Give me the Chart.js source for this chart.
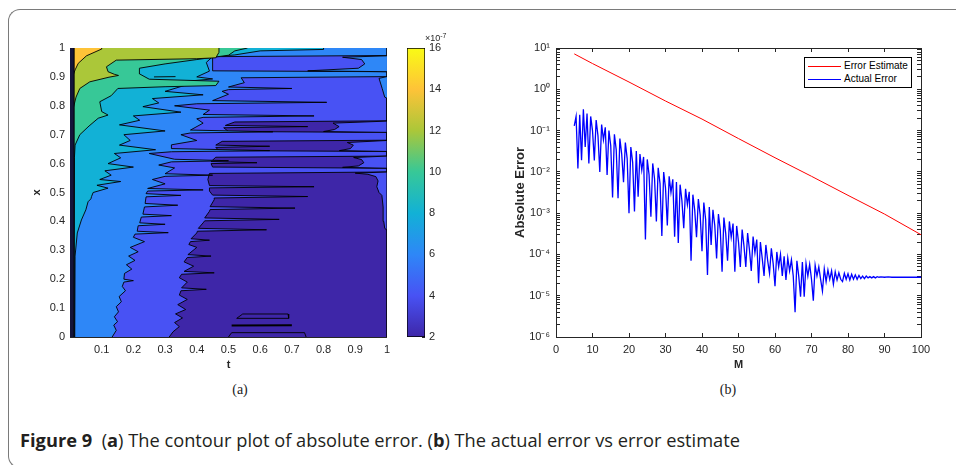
<!DOCTYPE html>
<html><head><meta charset="utf-8">
<script src="https://cdn.jsdelivr.net/npm/chart.js@4.4.1/dist/chart.umd.min.js"></script>
<style>
html,body{margin:0;padding:0;background:#fff;width:956px;height:465px;overflow:hidden;position:relative;font-family:'Liberation Sans',Arial,sans-serif;}
#frame{position:absolute;left:8px;top:9px;width:1000px;height:459px;border-left:1px solid #7a7a7a;border-top:1px solid #7a7a7a;border-bottom:1px solid #7a7a7a;border-radius:12px 0 0 12px;box-sizing:border-box;}
canvas{position:absolute;top:0;}
#cbExp{position:absolute;left:425px;top:32px;font-size:9px;color:#262626;white-space:nowrap;}
#cbExp sup{font-size:7px;vertical-align:3px;}
#legend{position:absolute;left:804px;top:57px;width:108px;height:31px;border:1px solid #000;background:#fff;box-sizing:border-box;font-size:10px;color:#000;}
#legend .sw{position:absolute;left:3px;width:33px;height:0;border-top:1px solid;}
#legend .tx{position:absolute;left:39px;white-space:nowrap;line-height:12px;}
.sub{position:absolute;top:382px;font-family:'Liberation Serif','DejaVu Serif',serif;font-size:14px;color:#222;transform:translateX(-50%);}
#caption{position:absolute;left:20px;top:428px;font-family:'Open Sans','Noto Sans',sans-serif;font-size:18px;color:#231f20;white-space:nowrap;transform-origin:0 50%;}
#caption b{font-weight:700;}
</style></head>
<body>
<div id="frame"></div>
<canvas id="cA" width="400" height="380" style="left:0px"></canvas>
<canvas id="cC" width="60" height="380" style="left:400px"></canvas>
<canvas id="cB" width="486" height="380" style="left:470px"></canvas>
<div id="cbExp">×10<sup>-7</sup></div>
<div id="legend">
  <div class="sw" style="top:8px;border-color:#ff0000"></div><div class="tx" style="top:2px">Error Estimate</div>
  <div class="sw" style="top:21px;border-color:#0000ff"></div><div class="tx" style="top:15px">Actual Error</div>
</div>
<div class="sub" style="left:240px">(a)</div>
<div class="sub" style="left:728px">(b)</div>
<div id="caption"><b>Figure 9</b>&nbsp; (<b>a</b>) The contour plot of absolute error. (<b>b</b>) The actual error vs error estimate</div>
<script>
// ---------------- Panel (a): contour of absolute error (values ×1e-7) ----------------
const tTickValues = [0.1,0.2,0.3,0.4,0.5,0.6,0.7,0.8,0.9,1];
const tTickLabels = ['0.1','0.2','0.3','0.4','0.5','0.6','0.7','0.8','0.9','1'];
const xTickValues = [0,0.1,0.2,0.3,0.4,0.5,0.6,0.7,0.8,0.9,1];
const xTickLabels = ['0','0.1','0.2','0.3','0.4','0.5','0.6','0.7','0.8','0.9','1'];
const contourLevels = [2,4,6,8,10,12,14];          // filled level of each region (×1e-7)
const colorbarTickValues = [2,4,6,8,10,12,14,16];
const colorbarTickLabels = ['2','4','6','8','10','12','14','16'];

// Contour boundaries: [x, t] pairs (x increasing); region lies left (smaller t) or right of the curve
const regionFull = [[0,1],[1,1]];
const blueLeft = [[0.000,0.313],[0.018,0.325],[0.036,0.345],[0.050,0.330],[0.066,0.355],[0.080,0.333],[0.095,0.365],[0.112,0.340],[0.130,0.370],[0.145,0.345],[0.160,0.350],[0.165,0.430],[0.170,0.352],[0.190,0.370],[0.205,0.345],[0.217,0.352],[0.222,0.455],[0.227,0.360],[0.245,0.390],[0.260,0.360],[0.275,0.370],[0.280,0.445],[0.285,0.372],[0.310,0.400],[0.320,0.375],[0.330,0.380],[0.335,0.440],[0.340,0.382],[0.360,0.400],[0.366,0.402],[0.371,0.620],[0.376,0.405],[0.395,0.420],[0.402,0.425],[0.407,0.660],[0.412,0.425],[0.435,0.440],[0.441,0.442],[0.446,0.710],[0.451,0.442],[0.475,0.455],[0.481,0.455],[0.486,0.750],[0.491,0.450],[0.505,0.440],[0.516,0.440],[0.520,0.770],[0.524,0.440],[0.545,0.435],[0.566,0.440],[0.571,1.0],[0.584,1.0],[0.588,0.450],[0.600,0.445],[0.603,0.590],[0.607,0.445],[0.622,0.460],[0.626,1.0],[0.642,1.0],[0.645,0.470],[0.656,0.460],[0.660,0.630],[0.664,0.460],[0.677,0.480],[0.681,1.0],[0.708,1.0],[0.711,0.500],[0.724,0.485],[0.728,0.750],[0.732,0.490],[0.744,0.520],[0.748,1.0],[1.0,1.0]];
const blueRight = [[0.0,1.0],[0.370,1.0],[0.376,0.993],[0.40,0.990],[0.45,0.988],[0.49,0.984],[0.50,0.975],[0.52,0.968],[0.54,0.972],[0.555,0.965],[0.563,0.94],[0.567,0.90],[0.571,1.0],[0.584,1.0],[0.587,0.86],[0.592,0.91],[0.603,0.927],[0.614,0.92],[0.621,0.895],[0.626,1.0],[0.642,1.0],[0.645,0.85],[0.652,0.885],[0.664,0.894],[0.673,0.875],[0.680,1.0],[0.708,1.0],[0.711,0.80],[0.718,0.835],[0.728,0.849],[0.740,0.83],[0.747,1.0],[1.0,1.0]];
const lightBlueLeft = [[0.000,0.133],[0.023,0.146],[0.041,0.138],[0.053,0.150],[0.070,0.140],[0.087,0.153],[0.105,0.146],[0.122,0.162],[0.140,0.155],[0.160,0.175],[0.175,0.165],[0.190,0.170],[0.195,0.200],[0.200,0.170],[0.220,0.172],[0.235,0.195],[0.250,0.178],[0.265,0.205],[0.280,0.185],[0.295,0.215],[0.310,0.190],[0.330,0.235],[0.345,0.200],[0.356,0.205],[0.361,0.310],[0.366,0.212],[0.385,0.215],[0.390,0.300],[0.395,0.220],[0.415,0.225],[0.420,0.320],[0.425,0.230],[0.450,0.235],[0.456,0.340],[0.462,0.237],[0.485,0.240],[0.490,0.350],[0.496,0.240],[0.505,0.245],[0.509,0.420],[0.514,0.245],[0.530,0.300],[0.545,0.260],[0.556,0.300],[0.560,0.450],[0.565,0.300],[0.585,0.330],[0.595,0.280],[0.606,0.320],[0.610,0.500],[0.615,0.330],[0.635,0.250],[0.641,0.320],[0.645,0.630],[0.652,0.320],[0.665,0.320],[0.680,0.400],[0.700,0.350],[0.706,0.380],[0.710,0.640],[0.716,0.380],[0.740,0.420],[0.755,0.400],[0.760,0.420],[0.765,0.770],[0.770,0.420],[0.785,0.440],[0.800,0.330],[0.807,0.400],[0.812,0.810],[0.818,0.450],[0.840,0.500],[0.850,0.480],[0.856,0.500],[0.860,0.700],[0.865,0.500],[0.880,0.550],[0.897,0.540],[0.901,1.0],[0.918,1.0],[0.921,0.450],[0.970,0.450],[0.974,1.0],[1.0,1.0]];
const lightBlueRight = [[0.0,1.0],[0.826,1.0],[0.830,0.993],[0.860,0.985],[0.895,0.975],[0.901,1.0],[0.918,1.0],[0.921,0.75],[0.930,0.91],[0.945,0.93],[0.960,0.92],[0.968,0.86],[0.973,1.0],[1.0,1.0]];
const cyanLeft = [[0.0,0.015],[0.28,0.016],[0.36,0.023],[0.405,0.036],[0.44,0.050],[0.468,0.057],[0.478,0.066],[0.486,0.068],[0.500,0.073],[0.515,0.120],[0.525,0.085],[0.538,0.160],[0.545,0.094],[0.560,0.130],[0.575,0.110],[0.588,0.200],[0.600,0.120],[0.620,0.160],[0.635,0.140],[0.648,0.270],[0.664,0.156],[0.680,0.190],[0.700,0.170],[0.713,0.300],[0.734,0.156],[0.750,0.220],[0.765,0.200],[0.778,0.350],[0.797,0.230],[0.810,0.280],[0.825,0.260],[0.838,0.420],[0.850,0.300],[0.870,0.360],[0.880,0.320],[0.893,0.450],[0.900,0.400],[0.920,0.440],[0.950,0.430],[0.970,0.450],[0.976,0.520],[0.990,0.600],[0.995,0.800],[1.0,0.800]];
const greenLeft = [[0.0,0.012],[0.620,0.014],[0.664,0.016],[0.700,0.031],[0.730,0.060],[0.757,0.089],[0.768,0.120],[0.780,0.100],[0.814,0.094],[0.835,0.130],[0.860,0.151],[0.866,0.300],[0.870,0.460],[0.885,0.470],[0.892,0.250],[0.910,0.220],[0.930,0.219],[0.945,0.300],[0.960,0.400],[0.975,0.500],[0.990,0.520],[1.0,0.560]];
const oliveLeft = [[0.0,0.010],[0.790,0.010],[0.830,0.019],[0.860,0.031],[0.883,0.0625],[0.899,0.123],[0.905,0.153],[0.909,0.140],[0.918,0.120],[0.935,0.115],[0.958,0.146],[0.963,0.400],[0.966,0.460],[0.985,0.470],[1.0,0.470]];
const orangeLeft = [[0.0,0.005],[0.900,0.008],[0.924,0.016],[0.947,0.026],[0.973,0.052],[0.996,0.099],[1.0,0.100]];
const edgeStrip = [[0,0.013],[1,0.013]];
const islandLines = [
  [[0.0646,0.526],[0.0796,0.545],[0.0796,0.688],[0.0646,0.690],[0.0646,0.526]],
  [[0.040,0.510],[0.041,0.700]],
  [[0.0,0.500],[0.015,0.510],[0.015,0.740],[0.0,0.745]],
  [[0.900,0.265],[0.901,0.333]]
];

// ---------------- Panel (b): error vs M ----------------
const mTickValues = [0,10,20,30,40,50,60,70,80,90,100];
const errTickValues = [10,1,0.1,0.01,0.001,0.0001,0.00001,0.000001];
const errTickLabels = ['10¹','10⁰','10⁻¹','10⁻²','10⁻³','10⁻⁴','10⁻⁵','10⁻⁶'];
const estimateM   = [5,10,20,30,40,50,60,70,80,90,100];
const estimateErr = [7.2,4.2,1.5,0.52,0.19,0.064,0.022,0.0078,0.0027,0.00095,0.0003];
const actualPoints = [
[5,0.13],[5.5,0.22],[6,0.012],[6.5,0.24],[7,0.019],[7.5,0.33],[8,0.04],[8.5,0.26],[9,0.016],[9.5,0.22],
[10,0.10],[10.5,0.019],[11,0.18],[11.5,0.075],[12,0.010],[12.5,0.14],[13,0.06],[13.5,0.12],[14,0.0084],[14.5,0.10],
[15,0.043],[15.5,0.0024],[16,0.081],[16.5,0.034],[17,0.0023],[17.5,0.064],[18,0.027],[18.5,0.0056],[19,0.051],[19.5,0.021],
[20,0.0010],[20.5,0.040],[21,0.017],[21.5,0.0011],[22,0.032],[22.5,0.0025],[23,0.027],[23.5,0.011],[24,0.023],[24.5,0.00023],
[25,0.020],[25.5,0.0085],[26,0.00082],[26.5,0.016],[27,0.0068],[27.5,0.00063],[28,0.0126],[28.5,0.0052],[29,0.00028],[29.5,0.0099],
[30,0.0041],[30.5,0.0005],[31,0.0078],[31.5,0.0032],[32,0.0066],[32.5,0.00027],[33,0.0057],[33.5,0.00019],[34,0.0049],[34.5,0.0020],
[35,0.00043],[35.5,0.0039],[36,0.0016],[36.5,0.0033],[37,0.00007],[37.5,0.0028],[38,0.0012],[38.5,0.00026],[39,0.0022],[39.5,0.0009],
[40,0.00012],[40.5,0.0018],[41,0.0007],[41.5,0.000032],[42,0.0014],[42.5,0.00017],[43,0.0012],[43.5,0.0005],[44,0.00008],[44.5,0.00095],
[45,0.0004],[45.5,0.000038],[46,0.00078],[46.5,0.00032],[47,0.00007],[47.5,0.00063],[48,0.00026],[48.5,0.00056],[49,0.000038],[49.5,0.00049],
[50,0.0002],[50.5,0.00005],[51,0.0004],[51.5,0.00016],[52,0.00005],[52.5,0.00033],[53,0.00013],[53.5,0.00004],[54,0.00027],[54.5,0.00011],
[55,0.00023],[55.5,0.00002],[56,0.0002],[56.5,0.00008],[57,0.00003],[57.5,0.00017],[58,0.00007],[58.5,0.000035],[59,0.00014],[59.5,0.00006],
[60,0.000017],[60.5,0.000115],[61,0.00005],[61.5,0.0001],[62,0.00003],[62.5,0.00009],[63,0.000024],[63.5,0.000082],[64,0.00004],[64.5,0.000074],
[65,0.00003],[65.5,0.000004],[66,0.00007],[66.5,0.00003],[67,0.0000095],[67.5,0.000065],[68,0.0000095],[68.5,0.00006],[69,0.00003],[69.5,0.000058],
[70,0.000025],[70.5,0.0000076],[71,0.000055],[71.5,0.00003],[72,0.00005],[72.5,0.000025],[73,0.000013],[73.5,0.000045],[74,0.000022],[74.5,0.000042],
[75,0.000025],[75.5,0.00004],[76,0.000019],[76.5,0.000038],[77,0.000024],[77.5,0.000036],[78,0.000025],[78.5,0.000022],[79,0.000035],[79.5,0.000025],
[80,0.000034],[80.5,0.000024],[81,0.000033],[81.5,0.000025],[82,0.000032],[82.5,0.000025],[83,0.000031],[83.5,0.000026],[84,0.00003],[84.5,0.000026],
[85,0.00003],[85.5,0.000027],[86,0.000029],[86.5,0.000027],[87,0.000029],[87.5,0.000027],[88,0.000029],[88.5,0.000028],[89,0.0000285],[90,0.000028],
[91,0.0000285],[92,0.000028],[93,0.0000283],[94,0.000028],[95,0.0000282],[96,0.000028],[97,0.000028],[98,0.000028],[99,0.000028],[100,0.000028]
];

// ---------------- styles ----------------
const parula8 = ['#3e26a8','#4852f4','#2e87f7','#12b1d6','#37c897','#abc739','#fec338','#f9fb15'];
const axisColor = '#262626';
const tickFont = {family:"'Liberation Sans', Arial, sans-serif", size:11};
const titleFont = {family:"'Liberation Sans', Arial, sans-serif", size:11, weight:'bold'};
const bigTitleFont = {family:"'Liberation Sans', Arial, sans-serif", size:13, weight:'bold'};

function labelFrom(values, labels) {
  return (v) => { const i = values.findIndex(w => Math.abs(w - v) < 1e-12 * Math.max(1, Math.abs(w))); return i >= 0 ? labels[i] : ''; };
}
function setTicks(values) { return (s) => { s.ticks = values.map(v => ({value: v})); }; }

// ---------- chart A ----------
const regionSpecs = [
  {pts: regionFull,     level: 0, side: 0, bw: 0},
  {pts: blueLeft,       level: 1, side: 0},
  {pts: blueRight,      level: 1, side: 1},
  {pts: lightBlueLeft,  level: 2, side: 0},
  {pts: lightBlueRight, level: 2, side: 1},
  {pts: cyanLeft,       level: 3, side: 0},
  {pts: greenLeft,      level: 4, side: 0},
  {pts: oliveLeft,      level: 5, side: 0},
  {pts: orangeLeft,     level: 6, side: 0},
];
const dsA = [];
regionSpecs.forEach(r => {
  dsA.push({
    label: 'level ' + contourLevels[r.level],
    data: r.pts.map(([x, t]) => ({x: t, y: x})),
    backgroundColor: parula8[r.level],
    borderColor: '#000', borderWidth: r.bw === 0 ? 0 : 0.9,
    fill: {value: r.side},
    pointRadius: 0, tension: 0, borderJoinStyle: 'round'
  });
});
dsA.push({label: 'edge', data: edgeStrip.map(([x,t]) => ({x:t, y:x})), backgroundColor:'#14143a', borderColor:'#000', borderWidth:1, fill:{value:0}, pointRadius:0});
islandLines.forEach((isl, k) => dsA.push({label:'island'+k, data: isl.map(([x,t]) => ({x:t, y:x})), borderColor:'#000', borderWidth: k===1 ? 2 : 0.9, fill:false, pointRadius:0, tension:0}));
dsA.forEach((d, i) => { d.order = 1000 - i; });

function edgeAxis(axis, position, values, extra) {
  return Object.assign({
    type: 'linear', axis, position, min: 0, max: 1, z: 1,
    afterBuildTicks: setTicks(values),
    ticks: {display: false, autoSkip: false},
    grid: {drawOnChartArea: false, tickLength: -4, color: axisColor},
    border: {color: axisColor, width: 1},
  }, extra || {});
}

new Chart(document.getElementById('cA'), {
  type: 'line',
  data: {datasets: dsA},
  options: {
    indexAxis: 'y', responsive: false, animation: false, devicePixelRatio: 1, events: [],
    layout: {padding: {left: 0, right: 10, top: 48, bottom: 0}},
    plugins: {legend: {display: false}, tooltip: {enabled: false}},
    scales: {
      x: {type:'linear', position:'bottom', min:0, max:1, z:1,
          afterBuildTicks: setTicks(tTickValues),
          ticks:{callback: labelFrom(tTickValues, tTickLabels), font: tickFont, color: axisColor, padding: 10, maxRotation: 0, autoSkip: false},
          grid:{drawOnChartArea:false, tickLength:-4, color: axisColor}, border:{color: axisColor, width:1},
          title:{display:true, text:'t', font: titleFont, color: axisColor, padding: 8.4},
          afterFit: s => { s.height = 43; }},
      y: {type:'linear', position:'left', min:0, max:1, z:1,
          afterBuildTicks: setTicks(xTickValues),
          ticks:{callback: labelFrom(xTickValues, xTickLabels), font: tickFont, color: axisColor, padding: 9, autoSkip: false},
          grid:{drawOnChartArea:false, tickLength:-4, color: axisColor}, border:{color: axisColor, width:1},
          title:{display:true, text:'x', font: titleFont, color: axisColor, padding: 30.4},
          afterFit: s => { s.width = 70; }},
      x2: edgeAxis('x', 'top', tTickValues, {afterFit: s => { s.height = 0; }}),
      y2: edgeAxis('y', 'right', xTickValues, {afterFit: s => { s.width = 0; }}),
    }
  }
});

// ---------- colorbar ----------
function colorbarGradient(ctx) {
  const ch = ctx.chart;
  if (!ch.chartArea) return parula8[0];
  const y0 = ch.scales.y.getPixelForValue(colorbarTickValues[0]);
  const y1 = ch.scales.y.getPixelForValue(colorbarTickValues[colorbarTickValues.length - 1]);
  const g = ch.ctx.createLinearGradient(0, y0, 0, y1);
  parula8.forEach((c, i) => g.addColorStop(i / (parula8.length - 1), c));
  return g;
}
new Chart(document.getElementById('cC'), {
  type: 'bar',
  data: {labels: ['cb'], datasets: [{data: [[2, 16]], backgroundColor: colorbarGradient, borderColor: '#000', borderWidth: 1, borderSkipped: false, barPercentage: 1, categoryPercentage: 1}]},
  options: {
    responsive: false, animation: false, devicePixelRatio: 1, events: [],
    layout: {padding: {left: 7, right: 0, top: 48, bottom: 43}},
    plugins: {legend: {display: false}, tooltip: {enabled: false}},
    scales: {
      x: {display: false},
      y: {type:'linear', position:'right', min:2, max:16, z:1,
          afterBuildTicks: setTicks(colorbarTickValues),
          ticks:{callback: labelFrom(colorbarTickValues, colorbarTickLabels), font: tickFont, color: axisColor, padding: 7, autoSkip:false},
          grid:{drawOnChartArea:false, tickLength:-3, color: axisColor}, border:{display:false},
          afterFit: s => { s.width = 35; }}
    }
  }
});

// ---------- chart B ----------
const errAllTicks = [];
errTickValues.slice().reverse().forEach((p, i, arr) => {
  errAllTicks.push(p);
  if (i < arr.length - 1) for (let k = 2; k <= 9; k++) errAllTicks.push(k * p);
});
function logEdge(position, extra) {
  return Object.assign({
    type: 'logarithmic', axis: 'y', position, min: 1e-6, max: 10, z: 1,
    afterBuildTicks: setTicks(errAllTicks),
    ticks: {display: false, autoSkip: false},
    grid: {drawOnChartArea: false, tickLength: -4, color: axisColor},
    border: {color: axisColor, width: 1},
  }, extra || {});
}
new Chart(document.getElementById('cB'), {
  type: 'line',
  data: {datasets: [
    {label: 'Error Estimate', data: estimateM.map((m, i) => ({x: m, y: estimateErr[i]})), borderColor: '#ff0000', borderWidth: 1, pointRadius: 0, fill: false, tension: 0},
    {label: 'Actual Error', data: actualPoints.map(([m, e]) => ({x: m, y: e})), borderColor: '#0000ff', borderWidth: 1.3, pointRadius: 0, fill: false, tension: 0}
  ]},
  options: {
    responsive: false, animation: false, devicePixelRatio: 1, events: [],
    layout: {padding: {left: 0, right: 35, top: 48, bottom: 0}},
    plugins: {legend: {display: false}, tooltip: {enabled: false}},
    scales: {
      x: {type:'linear', position:'bottom', min:0, max:100, z:1,
          afterBuildTicks: setTicks(mTickValues),
          ticks:{font: tickFont, color: axisColor, padding: 10, maxRotation: 0, autoSkip: false},
          grid:{drawOnChartArea:false, tickLength:-4, color: axisColor}, border:{color: axisColor, width:1},
          title:{display:true, text:'M', font: titleFont, color: axisColor, padding: 8.4},
          afterFit: s => { s.height = 43; }},
      y: logEdge('left', {
          ticks:{display: true, callback: labelFrom(errTickValues, errTickLabels), font: tickFont, color: axisColor, padding: 10, autoSkip: false},
          title:{display:true, text:'Absolute Error', font: bigTitleFont, color: axisColor, padding: 42.2},
          afterFit: s => { s.width = 86; }}),
      x2: {type:'linear', axis:'x', position:'top', min:0, max:100, z:1,
          afterBuildTicks: setTicks(mTickValues), ticks:{display:false},
          grid:{drawOnChartArea:false, tickLength:-4, color: axisColor}, border:{color: axisColor, width:1},
          afterFit: s => { s.height = 0; }},
      y2: logEdge('right', {afterFit: s => { s.width = 0; }}),
    }
  }
});

// caption: condensed to the reference width
(function(){
  const cap = document.getElementById('caption');
  const w = cap.getBoundingClientRect().width;
  if (w > 0) cap.style.transform = 'scaleX(' + (720 / w) + ')';
})();
</script>
</body></html>
